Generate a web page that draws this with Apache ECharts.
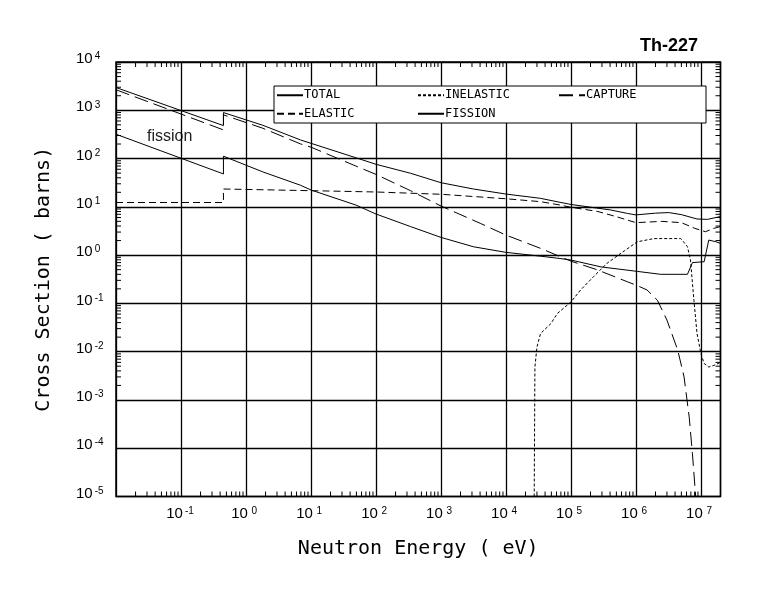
<!DOCTYPE html>
<html><head><meta charset="utf-8">
<script src="https://cdn.jsdelivr.net/npm/echarts@6/dist/echarts.min.js"></script>
<style>html,body{margin:0;padding:0;background:#fff}#c{width:780px;height:590px}</style>
</head><body><div id="c"></div>
<script>
// ---- data (energy in eV, cross section in barns) ----
const totalE   = [0.01, 0.45, 0.45, 1.81, 6.9, 10, 49, 100, 340, 1000, 3160, 1e4, 3.4e4, 6.8e4, 1e5, 4.1e5, 7.4e5, 1e6, 2e6, 3.2e6, 5e6, 8.7e6, 1.26e7, 1.7e7, 2e7];
const totalXS  = [2960, 482, 896, 490, 243, 207, 104, 76, 49.6, 31.6, 23.4, 18.4, 15, 12.4, 11.2, 8.6, 7.3, 6.8, 7.4, 7.6, 6.9, 5.6, 5.5, 6.0, 6.3];

const elasticE  = [0.01, 0.45, 0.45, 10, 100, 1000, 1e4, 3.4e4, 6.8e4, 1e5, 2.6e5, 5.1e5, 1e6, 2.5e6, 5e6, 8e6, 1.17e7, 1.6e7, 2e7];
const elasticXS = [12.3, 12.3, 23.4, 21.6, 20.3, 18.2, 14.7, 12.8, 10.9, 9.8, 8.0, 6.2, 4.7, 5.0, 4.7, 3.6, 3.05, 3.6, 3.9];

const inelasticE  = [2.72e4, 2.79e4, 3.0e4, 3.4e4, 4.9e4, 6.2e4, 1e5, 1.41e5, 2.24e5, 3.6e5, 6.6e5, 1.05e6, 1.9e6, 4.9e6, 6.2e6, 6.9e6, 7.8e6, 8.7e6, 1.0e7, 1.12e7, 1.32e7, 1.58e7, 2e7];
const inelasticXS = [1e-5, 4.8e-3, 0.0125, 0.0237, 0.038, 0.062, 0.107, 0.19, 0.36, 0.68, 1.22, 1.89, 2.2, 2.2, 1.5, 0.79, 0.116, 0.024, 0.0091, 0.0057, 0.0048, 0.0052, 0.006];

const captureE  = [0.01, 0.45, 0.45, 1.81, 6.9, 10, 49, 100, 340, 1000, 4.1e3, 1e4, 3.4e4, 1e5, 2.5e5, 7.4e5, 1e6, 1.48e6, 2.14e6, 3.0e6, 4.4e6, 5.5e6, 6.6e6, 7.4e6, 8.3e6];
const captureXS = [2660, 392, 803, 425, 201, 172, 70, 47, 21.6, 10.4, 4.5, 2.6, 1.38, 0.75, 0.5, 0.28, 0.24, 0.19, 0.116, 0.045, 0.0107, 0.003, 4.4e-4, 7.7e-5, 1e-5];

const fissionE  = [0.01, 0.45, 0.45, 1.81, 6.9, 10, 49, 100, 340, 1000, 3160, 1e4, 3.4e4, 6.8e4, 1e5, 2.9e5, 1.05e6, 2.4e6, 6.2e6, 7.4e6, 1.12e7, 1.32e7, 1.7e7, 2e7];
const fissionXS = [319, 48, 112, 53, 28, 22.3, 10.9, 7.1, 3.9, 2.33, 1.49, 1.14, 0.95, 0.85, 0.79, 0.57, 0.46, 0.40, 0.40, 0.70, 0.73, 2.05, 1.89, 1.75];

const legendNames = ['TOTAL', 'INELASTIC', 'CAPTURE', 'ELASTIC', 'FISSION'];
const X_RANGE = [0.01, 2e7];
const Y_RANGE = [1e-5, 1e4];

// ---- helpers ----
function pairs(e, s) { return e.map((v, i) => [v, s[i]]); }
function powLabel(v, skipMin) {
  const l = Math.log10(v), n = Math.round(l);
  if (Math.abs(l - n) > 1e-6) return '';
  if (skipMin && n === -2) return '';
  return '{b|10}{e|' + n + '}';
}
// minor tick positions (2..9 x 10^n) inside the axis ranges
const xMinor = [], yMinor = [];
for (let n = -3; n <= 8; n++) for (let k = 2; k <= 9; k++) {
  const v = k * Math.pow(10, n);
  if (v > X_RANGE[0] && v < X_RANGE[1]) xMinor.push([v, 1]);
  if (v > Y_RANGE[0] && v < Y_RANGE[1]) yMinor.push([1, v]);
}
const TICK = 5;
function tickLine(x1, y1, x2, y2) {
  return { type: 'line', shape: { x1, y1, x2, y2 }, style: { stroke: '#000', lineWidth: 1 } };
}

const mono = 'DejaVu Sans Mono';
const richX = {
  b: { fontFamily: 'Liberation Sans', fontSize: 15, lineHeight: 15, padding: [2, 0, 0, 0], verticalAlign: 'bottom', color: '#000' },
  e: { fontFamily: 'Liberation Sans', fontSize: 10, lineHeight: 10, verticalAlign: 'top', width: 13, align: 'left', color: '#000' }
};
const richY = {
  b: { fontFamily: 'Liberation Sans', fontSize: 15, lineHeight: 15, padding: [2, 0, 0, 0], verticalAlign: 'bottom', color: '#000' },
  e: { fontFamily: 'Liberation Sans', fontSize: 10, lineHeight: 10, verticalAlign: 'top', padding: [0, 0, 0, 2], color: '#000' }
};

function lineSeries(name, e, s, type) {
  return {
    name, type: 'line', data: pairs(e, s), symbol: 'none', showSymbol: false,
    lineStyle: { color: '#000', width: 1, type: type },
    itemStyle: { color: '#000' },
    emphasis: { disabled: true }, silent: true, z: 3
  };
}

const chart = echarts.init(document.getElementById('c'), null, { renderer: 'canvas' });
chart.setOption({
  animation: false,
  backgroundColor: '#fff',
  title: {
    text: 'Th-227', right: 77, top: 32,
    textStyle: { fontFamily: 'Liberation Sans', fontWeight: 'bold', fontSize: 18, color: '#000' }
  },
  grid: { left: 116, right: 59.5, top: 62, bottom: 93.5, show: true, borderColor: '#000', borderWidth: 1.5, backgroundColor: 'transparent', containLabel: false, outerBoundsMode: 'none' },
  legend: {
    left: 274, top: 86, orient: 'horizontal', width: 420,
    padding: [0, 30, 0, 2], itemGap: 0, itemWidth: 26, itemHeight: 10,
    borderColor: '#000', borderWidth: 1, backgroundColor: '#fff',
    selectedMode: false,
    itemStyle: { color: 'rgba(0,0,0,0)', borderColor: 'rgba(0,0,0,0)', borderWidth: 0, opacity: 0 },
    textStyle: { fontFamily: mono, fontSize: 12, color: '#000', width: 113, lineHeight: 18.5, padding: [0, 0, 0, -4] },
    data: legendNames.map(n => n === 'CAPTURE' ? { name: n, textStyle: { width: 90 } } : { name: n })
  },
  xAxis: {
    type: 'log', logBase: 10, min: X_RANGE[0], max: X_RANGE[1], splitNumber: 10,
    name: 'Neutron Energy ( eV)', nameLocation: 'middle', nameGap: 42,
    nameTextStyle: { fontFamily: mono, fontSize: 20, color: '#000' },
    axisLine: { show: false }, axisTick: { show: false },
    splitLine: { show: true, lineStyle: { color: '#000', width: 1.3 } },
    minorTick: { show: false }, minorSplitLine: { show: false },
    axisLabel: { margin: 10, formatter: v => powLabel(v, true), rich: richX, showMinLabel: true, showMaxLabel: true, hideOverlap: false }
  },
  yAxis: {
    type: 'log', logBase: 10, min: Y_RANGE[0], max: Y_RANGE[1], splitNumber: 10,
    name: 'Cross Section ( barns)', nameLocation: 'middle', nameGap: 62,
    nameTextStyle: { fontFamily: mono, fontSize: 20, color: '#000' },
    axisLine: { show: false }, axisTick: { show: false },
    splitLine: { show: true, lineStyle: { color: '#000', width: 1.3 } },
    minorTick: { show: false }, minorSplitLine: { show: false },
    axisLabel: { margin: 40, align: 'left', padding: [0, 0, 6, 0], formatter: v => powLabel(v, false), rich: richY, showMinLabel: true, showMaxLabel: true, hideOverlap: false }
  },
  graphic: [{
    type: 'text', left: 147, top: 129, silent: true,
    style: { text: 'fission', fontFamily: 'Liberation Sans', fontSize: 16, fill: '#222' }
  }],
  series: [
    lineSeries('TOTAL', totalE, totalXS, 'solid'),
    lineSeries('ELASTIC', elasticE, elasticXS, [7, 4]),
    lineSeries('INELASTIC', inelasticE, inelasticXS, [3, 2]),
    lineSeries('CAPTURE', captureE, captureXS, [14, 6]),
    lineSeries('FISSION', fissionE, fissionXS, 'solid'),
    {
      name: 'xMinorTicks', type: 'custom', silent: true, z: 4, data: xMinor,
      renderItem: function (params, api) {
        const v = api.value(0);
        const b = api.coord([v, Y_RANGE[0]]), t = api.coord([v, Y_RANGE[1]]);
        return { type: 'group', children: [tickLine(b[0], b[1], b[0], b[1] - TICK), tickLine(t[0], t[1], t[0], t[1] + TICK)] };
      }
    },
    {
      name: 'yMinorTicks', type: 'custom', silent: true, z: 4, data: yMinor,
      renderItem: function (params, api) {
        const v = api.value(1);
        const l = api.coord([X_RANGE[0], v]), r = api.coord([X_RANGE[1], v]);
        return { type: 'group', children: [tickLine(l[0], l[1], l[0] + TICK, l[1]), tickLine(r[0], r[1], r[0] - TICK, r[1])] };
      }
    }
  ]
});
</script></body></html>
